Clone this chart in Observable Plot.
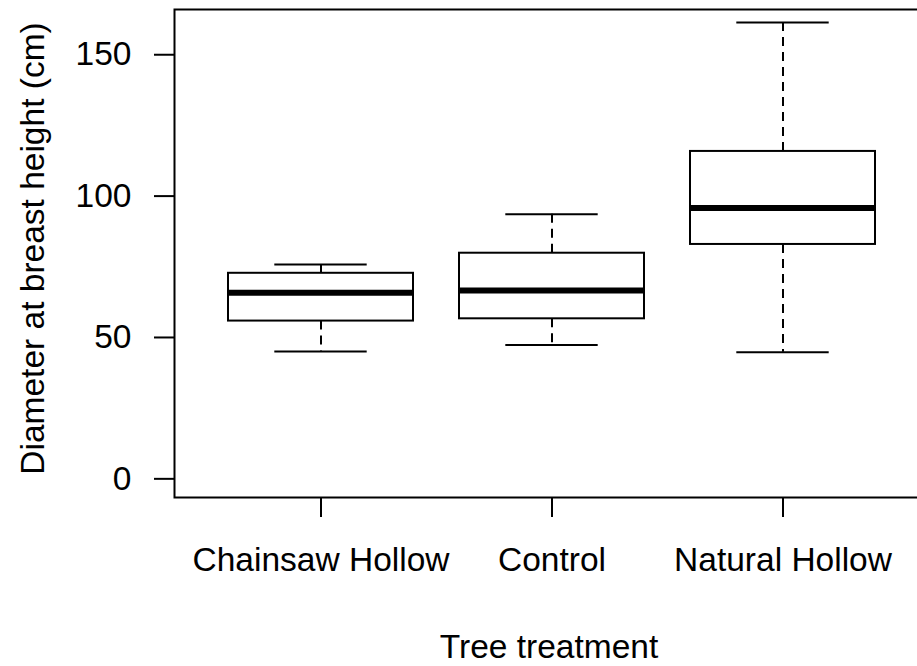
<!DOCTYPE html>
<html>
<head>
<meta charset="utf-8">
<script src="https://cdn.jsdelivr.net/npm/d3@7"></script>
<script src="https://cdn.jsdelivr.net/npm/@observablehq/plot@0.6"></script>
<style>
  html, body { margin: 0; padding: 0; background: white; }
  #chart { width: 917px; height: 666px; overflow: hidden; }
  #chart svg { overflow: hidden; }
</style>
</head>
<body>
<div id="chart"></div>
<script>
const categories = ["Chainsaw Hollow", "Control", "Natural Hollow"];
const whiskerLow = [45.0, 47.3, 44.8];
const quartile1 = [55.8, 56.6, 82.9];
const medians = [65.8, 66.6, 95.8];
const quartile3 = [72.7, 79.8, 115.8];
const whiskerHigh = [75.8, 93.6, 161.4];
const yTicks = [0, 50, 100, 150];
const xTitle = "Tree treatment";
const yTitle = "Diameter at breast height (cm)";

const data = categories.map((c, i) => ({
  cat: c, min: whiskerLow[i], q1: quartile1[i], med: medians[i], q3: quartile3[i], max: whiskerHigh[i]
}));

const font = "Liberation Sans, Arial, Helvetica, sans-serif";
const fs = 33.5;
const W = 917, H = 666;
const mL = 174, mR = -12, mT = 9, mB = 169;
const bandStep = (W - mL - mR) / (3 - 0.2 + 2 * 0.2306);
const capInset = bandStep * 0.8 / 4;

const chart = Plot.plot({
  width: W,
  height: H,
  marginLeft: mL,
  marginRight: mR,
  marginTop: mT,
  marginBottom: mB,
  style: {fontFamily: font, fontSize: fs + "px", background: "white", color: "black"},
  x: {type: "band", domain: categories, paddingInner: 0.2, paddingOuter: 0.2306},
  y: {domain: [-6.6, 166]},
  marks: [
    Plot.frame({stroke: "black", strokeWidth: 2}),
    Plot.ruleX(data, {x: "cat", y1: "q3", y2: "max", stroke: "black", strokeWidth: 2, strokeDasharray: "9,6"}),
    Plot.ruleX(data, {x: "cat", y1: "q1", y2: "min", stroke: "black", strokeWidth: 2, strokeDasharray: "9,6"}),
    Plot.barY(data, {x: "cat", y1: "q1", y2: "q3", fill: "white", stroke: "black", strokeWidth: 2}),
    Plot.tickY(data, {x: "cat", y: "med", stroke: "black", strokeWidth: 6}),
    Plot.tickY(data, {x: "cat", y: "max", stroke: "black", strokeWidth: 2, insetLeft: capInset, insetRight: capInset}),
    Plot.tickY(data, {x: "cat", y: "min", stroke: "black", strokeWidth: 2, insetLeft: capInset, insetRight: capInset}),
    Plot.axisY({ticks: yTicks, tickSize: 20, tickPadding: 23, strokeWidth: 2, fontSize: fs, label: null, fill: "black", stroke: "black"}),
    Plot.axisX({tickSize: 20, tickPadding: 30, strokeWidth: 2, fontSize: fs, label: null, fill: "black", stroke: "black"}),
    Plot.text([xTitle], {text: d => d, frameAnchor: "bottom", textAnchor: "middle", lineAnchor: "bottom", dy: 160.7, dx: -3, fontSize: fs, fill: "black"}),
    Plot.text([yTitle], {text: d => d, frameAnchor: "left", textAnchor: "middle", lineAnchor: "bottom", rotate: -90, dx: 43 - mL, dy: -5, fontSize: fs, fill: "black"})
  ]
});
document.getElementById("chart").appendChild(chart);
</script>
</body>
</html>
